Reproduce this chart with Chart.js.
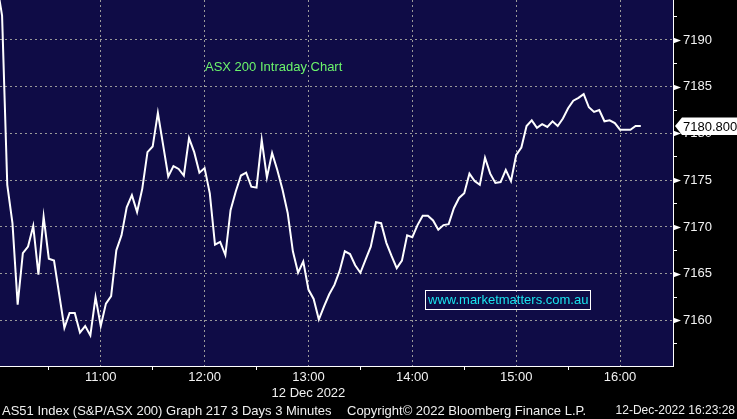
<!DOCTYPE html>
<html>
<head>
<meta charset="utf-8">
<script src="https://cdn.jsdelivr.net/npm/chart.js@4.4.0/dist/chart.umd.min.js"></script>
<style>
  html, body { margin: 0; padding: 0; background: #000; }
</style>
</head>
<body>
<canvas id="asxChart" width="737" height="419"></canvas>
<script>
// AS51 3 minute closes for 12 Dec 2022, first bar at 10:00
const barStart = 600;      // 10:00, minutes after midnight
const barMinutes = 3;
const closes = [
    7196.0, 7192.6, 7174.5, 7170.4, 7161.7, 7167.2, 7167.9, 7170.1, 7164.9, 7171.1,
    7166.6, 7166.4, 7162.8, 7159.2, 7160.8, 7160.8, 7158.7, 7159.4, 7158.4, 7162.5,
    7159.4, 7161.8, 7162.6, 7167.5, 7169.1, 7172.1, 7173.4, 7171.6, 7174.1, 7178.0,
    7178.6, 7182.2, 7178.8, 7175.4, 7176.5, 7176.2, 7175.5, 7179.5, 7178.0, 7175.8,
    7176.3, 7173.6, 7168.1, 7168.4, 7167.0, 7171.8, 7173.8, 7175.5, 7175.8, 7174.3,
    7174.2, 7179.3, 7175.3, 7177.9, 7176.1, 7174.0, 7171.5, 7167.4, 7165.1, 7166.3,
    7163.3, 7162.3, 7160.1, 7161.5, 7162.8, 7163.8, 7165.3, 7167.4, 7167.1, 7165.9,
    7165.1, 7166.5, 7167.9, 7170.5, 7170.4, 7168.3, 7166.9, 7165.6, 7166.4, 7169.1,
    7168.9, 7170.2, 7171.2, 7171.2, 7170.7, 7169.7, 7170.2, 7170.3, 7172.0, 7173.1,
    7173.6, 7175.7, 7174.9, 7174.5, 7177.4, 7175.7, 7174.7, 7174.8, 7176.1, 7174.9,
    7177.7, 7178.5, 7180.8, 7181.4, 7180.6, 7181.0, 7180.7, 7181.3, 7180.8, 7181.6,
    7182.7, 7183.5, 7183.8, 7184.2, 7182.8, 7182.3, 7182.5, 7181.3, 7181.4, 7181.1,
    7180.4, 7180.4, 7180.4, 7180.8, 7180.8
];
const lastPrice = 7180.8;

const yTickValues = [7157.5, 7160, 7162.5, 7165, 7167.5, 7170, 7172.5, 7175,
                     7177.5, 7180, 7182.5, 7185, 7187.5, 7190, 7192.5];
const xTickValues = [630, 660, 690, 720, 750, 780, 810, 840, 870, 900, 930, 960];
const xTickLabels = ['', '11:00', '', '12:00', '', ['13:00', '12 Dec 2022'], '',
                     '14:00', '', '15:00', '', '16:00'];

const footerLeft = 'AS51 Index (S&P/ASX 200) Graph 217 3 Days 3 Minutes';
const footerMid = 'Copyright\u00A9 2022 Bloomberg Finance L.P.';
const footerRight = '12-Dec-2022 16:23:28';

const navy = '#0f0c46';
const dotGray = '#9a9a9a';
const font = '"Liberation Sans", Arial, sans-serif';

const backdrop = {
    id: 'backdrop',
    beforeDraw(chart) {
        const { ctx, chartArea: a, width, height } = chart;
        ctx.save();
        ctx.fillStyle = '#000';
        ctx.fillRect(0, 0, width, height);
        ctx.fillStyle = navy;
        ctx.fillRect(a.left, a.top, a.right - a.left, a.bottom - a.top);
        ctx.restore();
    }
};

const overlay = {
    id: 'overlay',
    afterDraw(chart) {
        const { ctx, chartArea: a } = chart;
        const y = chart.scales.y;
        ctx.save();

        // arrow heads on the major price ticks
        ctx.fillStyle = '#fff';
        yTickValues.filter(v => v % 5 === 0).forEach(v => {
            const py = Math.round(y.getPixelForValue(v)) + 0.5;
            ctx.beginPath();
            ctx.moveTo(a.right, py - 3);
            ctx.lineTo(a.right + 8, py);
            ctx.lineTo(a.right, py + 3);
            ctx.closePath();
            ctx.fill();
        });

        // title
        ctx.font = '13px ' + font;
        ctx.textBaseline = 'middle';
        ctx.fillStyle = '#6cf56c';
        ctx.fillText('ASX 200 Intraday Chart', 205, 67);

        // watermark box
        ctx.strokeStyle = '#fff';
        ctx.lineWidth = 1;
        ctx.strokeRect(425.5, 290.5, 165, 19);
        ctx.fillStyle = '#1ae3ee';
        ctx.fillText('www.marketmatters.com.au', 428, 300.5);

        // last price callout
        const ly = y.getPixelForValue(lastPrice);
        ctx.fillStyle = '#fff';
        ctx.beginPath();
        ctx.moveTo(a.right + 2, ly);
        ctx.lineTo(a.right + 9, ly - 8.5);
        ctx.lineTo(737, ly - 8.5);
        ctx.lineTo(737, ly + 9);
        ctx.lineTo(a.right + 9, ly + 9);
        ctx.closePath();
        ctx.fill();
        ctx.fillStyle = '#000';
        ctx.fillText(lastPrice.toFixed(3), a.right + 10, ly + 1);

        // footer
        ctx.fillStyle = '#f0f0f0';
        ctx.fillText(footerLeft, 2, 411);
        ctx.fillText(footerMid, 347, 411);
        ctx.font = '12px ' + font;
        ctx.textAlign = 'right';
        ctx.fillText(footerRight, 735, 411);
        ctx.restore();
    }
};

new Chart(document.getElementById('asxChart').getContext('2d'), {
    type: 'line',
    data: {
        datasets: [{
            data: closes.map((c, i) => ({ x: barStart + i * barMinutes, y: c })),
            borderColor: '#fff',
            borderWidth: 2,
            pointRadius: 0,
            tension: 0
        }]
    },
    options: {
        responsive: false,
        animation: false,
        layout: { padding: 0 },
        plugins: { legend: { display: false }, tooltip: { enabled: false } },
        scales: {
            x: {
                type: 'linear',
                min: 601.8,
                max: 990.6,
                afterBuildTicks: s => { s.ticks = xTickValues.map(v => ({ value: v })); },
                afterFit: s => { s.height = 53; s.paddingLeft = 0; s.paddingRight = 0; },
                grid: {
                    color: c => (c.tick && c.tick.value % 60 === 0) ? dotGray : 'transparent',
                    tickColor: c => (c.tick && c.tick.value % 60 !== 0) ? '#fff' : 'transparent',
                    tickLength: 4,
                    tickWidth: 1,
                    tickBorderDash: []
                },
                border: { color: '#fff', width: 1, dash: [2, 3] },
                ticks: {
                    autoSkip: false,
                    maxRotation: 0,
                    padding: -1,
                    color: '#f2f2f2',
                    font: { family: font, size: 13, lineHeight: '16px' },
                    callback: (v, i) => xTickLabels[i]
                }
            },
            y: {
                position: 'right',
                min: 7155.13,
                max: 7194.27,
                afterBuildTicks: s => { s.ticks = yTickValues.map(v => ({ value: v })); },
                afterFit: s => { s.width = 64; s.paddingTop = 0; s.paddingBottom = 0; },
                grid: {
                    color: c => (c.tick && c.tick.value % 5 === 0) ? dotGray : 'transparent',
                    tickColor: c => (c.tick && c.tick.value % 5 !== 0) ? '#fff' : 'transparent',
                    tickLength: 4,
                    tickWidth: 1,
                    tickBorderDash: []
                },
                border: { color: '#fff', width: 1, dash: [2, 3] },
                ticks: {
                    padding: 6,
                    color: '#f2f2f2',
                    font: { family: font, size: 13 },
                    callback: v => (v % 5 === 0 ? String(v) : '')
                }
            }
        }
    },
    plugins: [backdrop, overlay]
});
</script>
</body>
</html>
